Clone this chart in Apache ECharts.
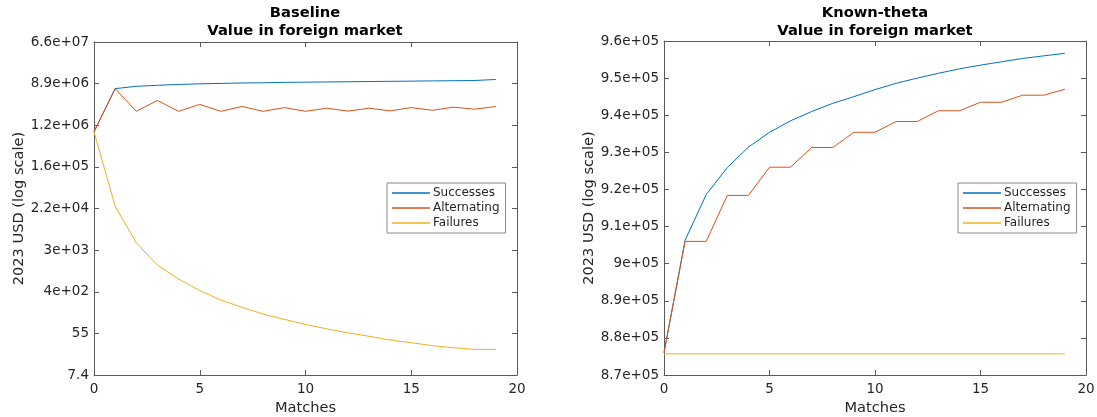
<!DOCTYPE html>
<html>
<head>
<meta charset="utf-8">
<script src="https://cdn.jsdelivr.net/npm/echarts@6/dist/echarts.min.js"></script>
<style>
  html, body { margin: 0; padding: 0; background: #fff; }
  #chart { width: 1097px; height: 417px; }
</style>
</head>
<body>
<div id="chart"></div>
<script>
// matches 0..19
const matches = [0,1,2,3,4,5,6,7,8,9,10,11,12,13,14,15,16,17,18,19];

// Baseline panel, 2023 USD (plotted on a natural-log axis)
const baseSuccesses = [8.76e5, 6.99e6, 7.80e6, 8.2e6, 8.54e6, 8.8e6, 8.98e6, 9.16e6, 9.25e6, 9.44e6,
  9.53e6, 9.63e6, 9.72e6, 9.82e6, 9.92e6, 1.002e7, 1.012e7, 1.022e7, 1.032e7, 1.085e7];
const baseAlternating = [8.76e5, 6.99e6, 2.35e6, 3.95e6, 2.35e6, 3.27e6, 2.35e6, 2.96e6, 2.35e6, 2.81e6,
  2.35e6, 2.73e6, 2.37e6, 2.73e6, 2.40e6, 2.81e6, 2.47e6, 2.87e6, 2.60e6, 2.96e6];
const baseFailures = [8.76e5, 24600, 4230, 1450, 742, 428, 270, 191, 138, 107,
  84, 68, 56, 47.5, 39.7, 34.8, 30.3, 27.4, 25.3, 25.3];

// Known-theta panel, 2023 USD
const knownSuccesses = [8.760e5, 9.063e5, 9.186e5, 9.259e5, 9.314e5, 9.354e5, 9.385e5, 9.410e5, 9.432e5, 9.450e5,
  9.469e5, 9.486e5, 9.500e5, 9.513e5, 9.525e5, 9.535e5, 9.544e5, 9.553e5, 9.560e5, 9.567e5];
const knownAlternating = [8.760e5, 9.060e5, 9.060e5, 9.184e5, 9.184e5, 9.260e5, 9.260e5, 9.313e5, 9.313e5, 9.354e5,
  9.354e5, 9.383e5, 9.383e5, 9.412e5, 9.412e5, 9.435e5, 9.435e5, 9.454e5, 9.454e5, 9.470e5];
const knownFailures = [8.757e5, 8.757e5, 8.757e5, 8.757e5, 8.757e5, 8.757e5, 8.757e5, 8.757e5, 8.757e5, 8.757e5,
  8.757e5, 8.757e5, 8.757e5, 8.757e5, 8.757e5, 8.757e5, 8.757e5, 8.757e5, 8.757e5, 8.757e5];

const seriesNames = ['Successes', 'Alternating', 'Failures'];
const colors = ['#0072BD', '#D95319', '#EDB120'];

const FONT = 'DejaVu Sans';
const TXT = '#262626';
const AX = '#5a5a5a';

// matlab-like %.2g
function fmtG(x) {
  if (x === 0) return '0';
  const e = Math.floor(Math.log10(Math.abs(x)));
  if (e < 2 && e >= -4) return String(Number(x.toPrecision(2)));
  let m = x / Math.pow(10, e);
  let ms = m.toFixed(1);
  let ee = e;
  if (parseFloat(ms) >= 10) { ms = (m / 10).toFixed(1); ee += 1; }
  ms = ms.replace(/\.0$/, '');
  const sign = ee < 0 ? '-' : '+';
  const ea = Math.abs(ee);
  return ms + 'e' + sign + (ea < 10 ? '0' + ea : ea);
}

const grids = [
  { left: 94, top: 42, width: 423, height: 333, outerBoundsMode: 'none', containLabel: false },
  { left: 664, top: 41, width: 422, height: 334, outerBoundsMode: 'none', containLabel: false }
];

function xAxes(gi) {
  const base = {
    type: 'value', gridIndex: gi, min: 0, max: 20, interval: 5,
    axisLine: { show: true, onZero: false, lineStyle: { color: AX, width: 1 } },
    axisTick: { show: true, inside: true, length: 5, lineStyle: { color: AX } },
    splitLine: { show: false }
  };
  return [
    Object.assign({}, base, {
      position: 'bottom',
      name: 'Matches', nameLocation: 'middle', nameGap: 24,
      nameTextStyle: { fontFamily: FONT, fontSize: 14.6, color: TXT },
      axisLabel: { fontFamily: FONT, fontSize: 13.5, color: TXT, margin: 7 }
    }),
    Object.assign({}, base, { position: 'top', axisLabel: { show: false } })
  ];
}

function yAxes(gi, min, max, interval) {
  const base = {
    type: 'value', gridIndex: gi, min: min, max: max, interval: interval,
    axisLine: { show: true, onZero: false, lineStyle: { color: AX, width: 1 } },
    axisTick: { show: true, inside: true, length: 5, lineStyle: { color: AX } },
    splitLine: { show: false }
  };
  const fmt = gi === 0 ? (v) => fmtG(Math.exp(v)) : (v) => fmtG(v);
  return [
    Object.assign({}, base, {
      position: 'left',
      name: '2023 USD (log scale)', nameLocation: 'middle', nameGap: 66,
      nameTextStyle: { fontFamily: FONT, fontSize: 14.6, color: TXT },
      axisLabel: { fontFamily: FONT, fontSize: 13.5, color: TXT, margin: 5, formatter: fmt }
    }),
    Object.assign({}, base, { position: 'right', axisLabel: { show: false } })
  ];
}

function lineSeries(name, data, gi, color, logY) {
  return {
    name: name, type: 'line',
    xAxisIndex: gi * 2, yAxisIndex: gi * 2,
    data: matches.map((m, i) => [m, logY ? Math.log(data[i]) : data[i]]),
    showSymbol: false, symbol: 'none',
    lineStyle: { color: color, width: 1 },
    itemStyle: { color: color },
    animation: false
  };
}

const legendBase = {
  orient: 'vertical', top: 183,
  icon: 'rect', itemWidth: 38, itemHeight: 1.5, itemGap: 3,
  padding: [4, 6, 4, 5],
  borderColor: '#8a8a8a', borderWidth: 1, backgroundColor: '#fff',
  textStyle: { fontFamily: FONT, fontSize: 12, color: TXT, padding: [0, 0, 0, -2] },
  selectedMode: false,
  data: seriesNames
};

const titleStyle = { fontFamily: FONT, fontSize: 14.7, fontWeight: 'bold', color: '#000', lineHeight: 18 };

const chart = echarts.init(document.getElementById('chart'), null, { renderer: 'canvas' });
chart.setOption({
  backgroundColor: '#fff',
  animation: false,
  title: [
    { text: 'Baseline\nValue in foreign market', left: 305, top: 4, padding: 0, textAlign: 'center', textStyle: titleStyle },
    { text: 'Known-theta\nValue in foreign market', left: 875, top: 4, padding: 0, textAlign: 'center', textStyle: titleStyle }
  ],
  legend: [
    Object.assign({}, legendBase, { left: 387 }),
    Object.assign({}, legendBase, { left: 958 })
  ],
  grid: grids,
  xAxis: xAxes(0).concat(xAxes(1)),
  yAxis: yAxes(0, 2, 18, 2).concat(yAxes(1, 870000, 960000, 10000)),
  series: [
    lineSeries(seriesNames[0], baseSuccesses, 0, colors[0], true),
    lineSeries(seriesNames[1], baseAlternating, 0, colors[1], true),
    lineSeries(seriesNames[2], baseFailures, 0, colors[2], true),
    lineSeries(seriesNames[0], knownSuccesses, 1, colors[0], false),
    lineSeries(seriesNames[1], knownAlternating, 1, colors[1], false),
    lineSeries(seriesNames[2], knownFailures, 1, colors[2], false)
  ]
});
</script>
</body>
</html>
